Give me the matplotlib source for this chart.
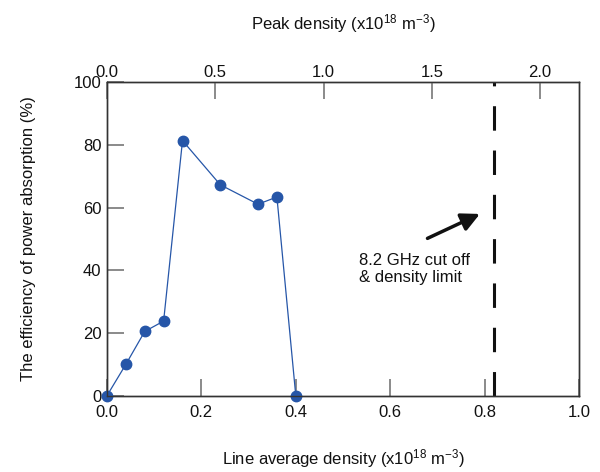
import matplotlib
matplotlib.use("Agg")
import matplotlib.pyplot as plt

plt.rcParams['font.family'] = ['Liberation Sans', 'DejaVu Sans']
plt.rcParams['mathtext.fontset'] = 'custom'
plt.rcParams['mathtext.rm'] = 'Liberation Sans'
plt.rcParams['mathtext.it'] = 'Liberation Sans'
plt.rcParams['mathtext.default'] = 'regular'

line_density = [0.0, 0.04, 0.08, 0.12, 0.16, 0.24, 0.32, 0.36, 0.40]
efficiency = [0.0, 10.0, 20.5, 23.8, 81.4, 67.3, 61.1, 63.4, 0.0]
cutoff_density = 0.82
bottom_ticks = [0.0, 0.2, 0.4, 0.6, 0.8, 1.0]
left_ticks = [0, 20, 40, 60, 80, 100]
top_ticks = [0.0, 0.5, 1.0, 1.5, 2.0]
top_max = 2.18

fig = plt.figure(figsize=(6, 4.72), dpi=100)
ax = fig.add_axes([0.1783, 0.1617, 0.7867, 0.6639])

ax.plot(line_density, efficiency, color='#2656a8', lw=0.9, marker='o',
        markersize=7.5, markerfacecolor='#2656a8', markeredgecolor='#2656a8',
        clip_on=False, zorder=3)
ax.plot([cutoff_density, cutoff_density], [0, 100], color='#111111', lw=2.2,
        dashes=(8, 6.5), zorder=2)

ax.annotate('', xy=(0.79, 58.0), xytext=(0.679, 50.2),
            arrowprops=dict(arrowstyle='-|>,head_length=1.1,head_width=0.55',
                            color='#111111', lw=2.5, shrinkA=0, shrinkB=0))
ax.text(0.534, 45.5, '8.2 GHz cut off\n& density limit', fontsize=12,
        ha='left', va='top', linespacing=1.2, color='#111111')

ax.set_xlim(0, 1.0)
ax.set_ylim(0, 100)
ax.set_xticks(bottom_ticks)
ax.set_xticklabels([f'{t:.1f}' for t in bottom_ticks])
ax.set_yticks(left_ticks)

for s in ax.spines.values():
    s.set_color('#333333')
    s.set_linewidth(1.0)

ax.tick_params(axis='both', direction='in', length=12, width=1.2,
               color='#777777', labelsize=12, labelcolor='#111111')
ax.tick_params(axis='x', pad=7)
ax.tick_params(axis='y', right=False, pad=4)

ax.set_xlabel(r'Line average density (x10$^{18}$ m$^{-3}$)', fontsize=12,
              labelpad=19, color='#111111')
ax.set_ylabel('The efficiency of power absorption (%)', fontsize=12,
              labelpad=27, color='#111111')

ax2 = ax.twiny()
ax2.set_xlim(0, top_max)
ax2.set_xticks(top_ticks)
ax2.set_xticklabels([f'{t:.1f}' for t in top_ticks])
ax2.tick_params(axis='x', direction='in', length=12, width=1.2,
                color='#777777', labelsize=12, labelcolor='#111111', pad=2)
for s in ax2.spines.values():
    s.set_color('#333333')
    s.set_linewidth(1.0)
ax2.set_xlabel(r'Peak density (x10$^{18}$ m$^{-3}$)', fontsize=12,
               labelpad=25, color='#111111')

fig.savefig('out.png', dpi=100)
